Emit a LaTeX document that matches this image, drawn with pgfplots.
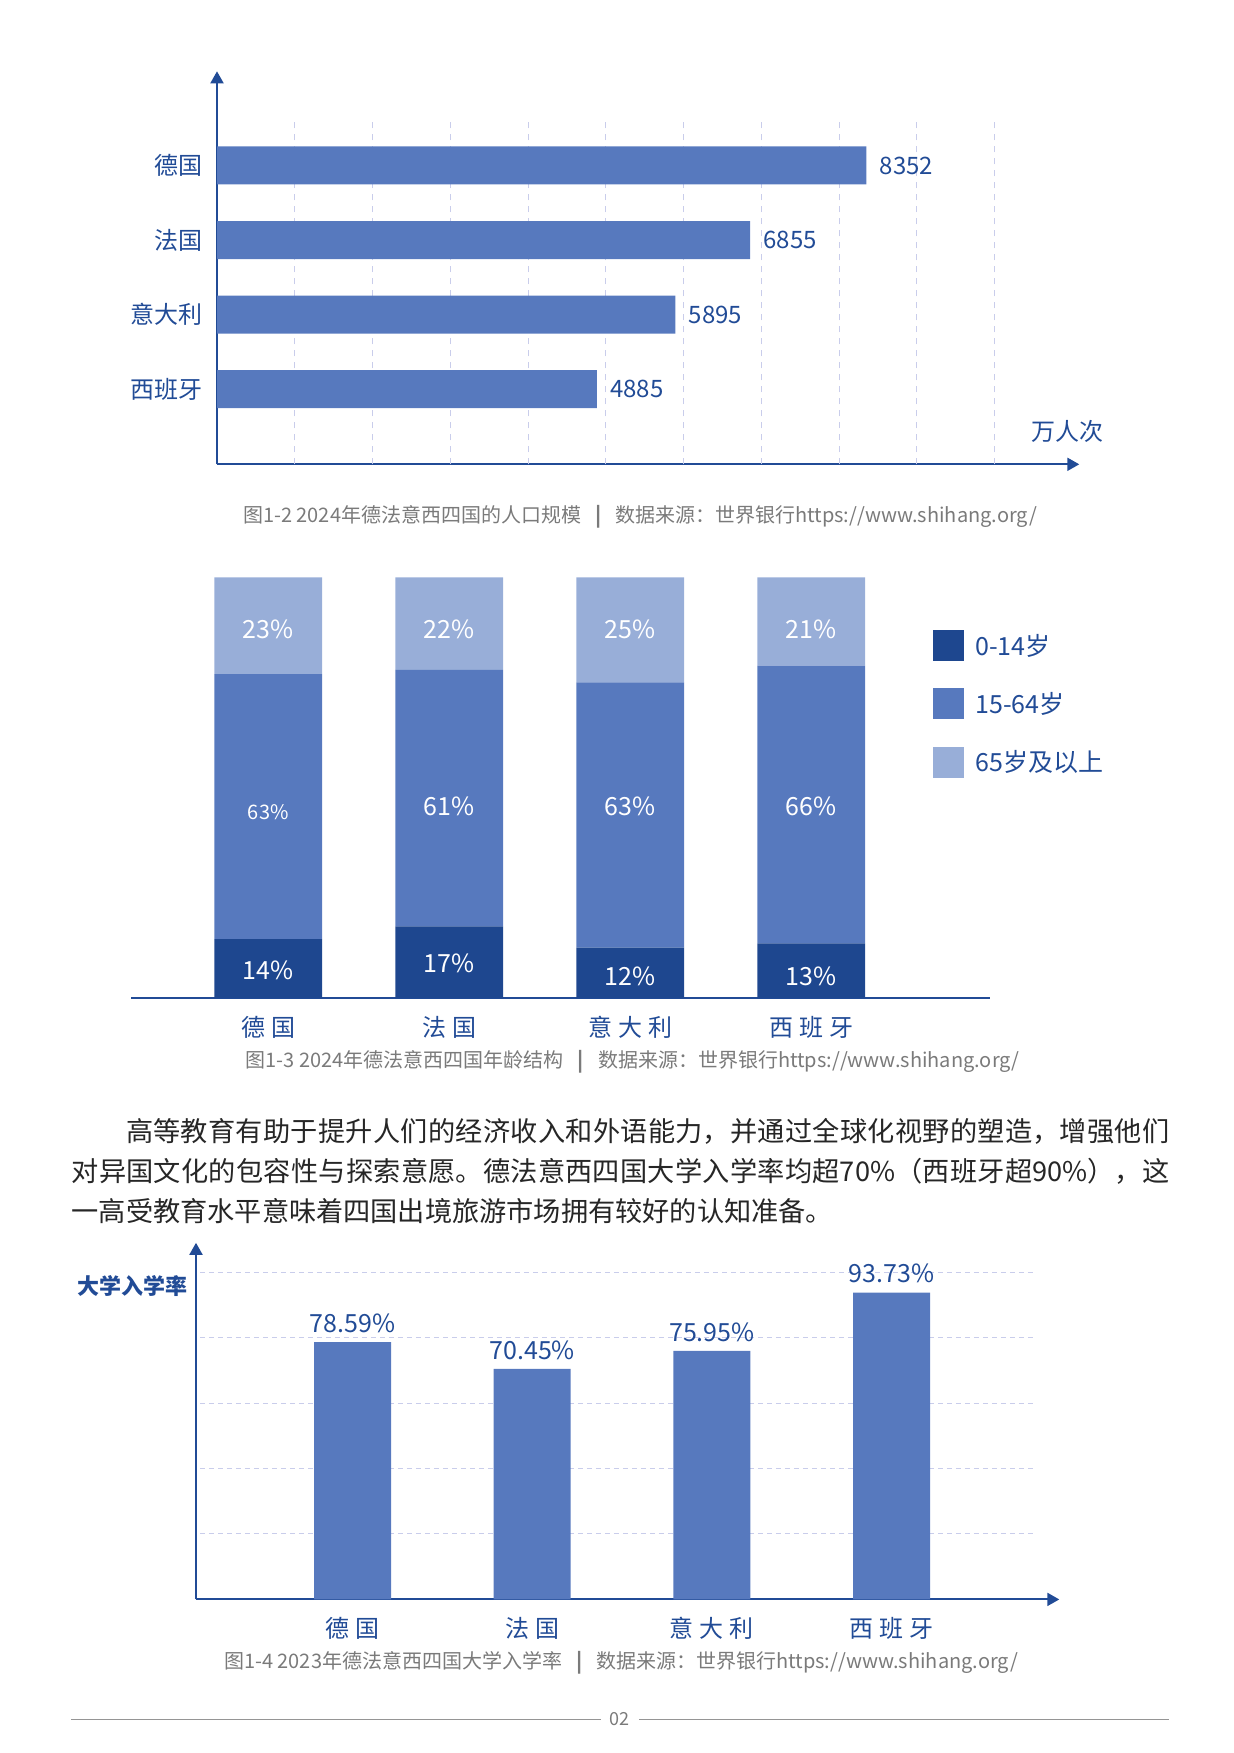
\documentclass[border=0pt]{standalone}
\usepackage{fontspec}
\setmainfont{Noto Sans CJK SC}
\usepackage{pgfplots}
\pgfplotsset{compat=1.18}
\usetikzlibrary{arrows.meta}
\definecolor{barblue}{HTML}{5779BE}
\definecolor{darkblue}{HTML}{1E478F}
\definecolor{lightblue}{HTML}{98AED8}
\definecolor{axisblue}{HTML}{214B96}
\definecolor{gridc}{HTML}{C9CDEB}
\definecolor{capgray}{HTML}{7A7A7A}
\definecolor{bodytext}{HTML}{262626}
\XeTeXlinebreaklocale "zh"
\XeTeXlinebreakskip=0pt plus 2pt minus 0.3pt
\newcommand{\capsep}{\hspace{0.7em}\textbf{|}\hspace{0.7em}}
\tikzset{seglbl/.style={text=white, font=\fontsize{12.5}{14}\selectfont}}
\begin{document}
\begin{tikzpicture}
\path[use as bounding box] (0pt,0pt) rectangle (617pt,-876.5pt);

% ---------------- Chart 1: population ----------------
\begin{axis}[
  at={(108.5pt,-232.15pt)}, anchor=south west,
  width=431.15pt, height=196.5pt, scale only axis,
  xbar, bar width=19pt,
  xmin=0, xmax=11090, ymin=-1.007, ymax=4.263,
  axis x line=bottom, axis y line=left,
  axis line style={axisblue, line width=1pt},
  x axis line style={-{Triangle[length=6pt,width=6.5pt]}},
  y axis line style={-{Triangle[length=6pt,width=6.5pt]}},
  ytick={0,1,2,3}, yticklabels={西班牙,意大利,法国,德国},
  xtick=\empty, major tick length=0pt,
  yticklabel style={font=\fontsize{12}{14}\selectfont, text=axisblue, inner sep=0pt, xshift=-7pt},
  nodes near coords, point meta=explicit symbolic,
  nodes near coords style={font=\fontsize{12}{14}\selectfont, text=axisblue, anchor=west, inner sep=0pt, xshift=6.5pt},
  clip=false,
]
\pgfplotsinvokeforeach{1,...,10}{
  \draw[gridc, line width=0.5pt, dash pattern=on 3pt off 3pt] (axis cs:#1000,-1.007) -- (axis cs:#1000,3.59);
}
\addplot[fill=barblue, draw=none] coordinates {(4885,0)[4885] (5895,1)[5895] (6855,2)[6855] (8352,3)[8352]};
\end{axis}
\node[font=\fontsize{12}{14}\selectfont, text=axisblue] at (533.5pt,-215.85pt) {万人次};
\node[font=\fontsize{10}{12}\selectfont, text=capgray] at (320pt,-258.5pt) {图1-2 2024年德法意西四国的人口规模\capsep 数据来源：世界银行https://www.shihang.org/};

% ---------------- Chart 2: age structure ----------------
\begin{axis}[
  at={(65.6pt,-499pt)}, anchor=south west,
  width=429.25pt, height=210.35pt, scale only axis,
  ybar stacked, bar width=53.8pt,
  xmin=-0.757, xmax=3.986, ymin=0, ymax=100,
  axis x line=bottom, axis y line=none,
  x axis line style={-, axisblue, line width=1pt},
  xtick={0,1,2,3}, xticklabels={德\hspace{3pt}国,法\hspace{3pt}国,意\hspace{3pt}大\hspace{3pt}利,西\hspace{3pt}班\hspace{3pt}牙},
  ytick=\empty, major tick length=0pt,
  xticklabel style={font=\fontsize{12}{14}\selectfont, text=axisblue, anchor=center, inner sep=0pt, yshift=-14.5pt},
  clip=false,
]
\addplot[fill=darkblue, draw=none] coordinates {(0,14) (1,17) (2,12) (3,13)};
\addplot[fill=barblue, draw=none] coordinates {(0,63) (1,61) (2,63) (3,66)};
\addplot[fill=lightblue, draw=none] coordinates {(0,23) (1,22) (2,25) (3,21)};
\coordinate (t0) at (axis cs:0,87.7);
\coordinate (t1) at (axis cs:1,87.7);
\coordinate (t2) at (axis cs:2,87.7);
\coordinate (t3) at (axis cs:3,87.7);
\coordinate (m0) at (axis cs:0,44.2);
\coordinate (m1) at (axis cs:1,45.5);
\coordinate (m2) at (axis cs:2,45.5);
\coordinate (m3) at (axis cs:3,45.5);
\coordinate (b0) at (axis cs:0,6.65);
\coordinate (b1) at (axis cs:1,8.3);
\coordinate (b2) at (axis cs:2,5.1);
\coordinate (b3) at (axis cs:3,5.1);
\end{axis}
\node[seglbl] at (t0) {23\%};
\node[seglbl] at (t1) {22\%};
\node[seglbl] at (t2) {25\%};
\node[seglbl] at (t3) {21\%};
\node[seglbl, font=\fontsize{10}{12}\selectfont] at (m0) {63\%};
\node[seglbl] at (m1) {61\%};
\node[seglbl] at (m2) {63\%};
\node[seglbl] at (m3) {66\%};
\node[seglbl] at (b0) {14\%};
\node[seglbl] at (b1) {17\%};
\node[seglbl] at (b2) {12\%};
\node[seglbl] at (b3) {13\%};
% legend
\fill[darkblue] (466.5pt,-315pt) rectangle (481.85pt,-330.5pt);
\fill[barblue] (466.5pt,-344pt) rectangle (481.85pt,-359.35pt);
\fill[lightblue] (466.5pt,-373.5pt) rectangle (481.85pt,-388.85pt);
\node[anchor=west, inner sep=0pt, text=axisblue, font=\fontsize{12.5}{14}\selectfont] at (487.5pt,-322.75pt) {0-14岁};
\node[anchor=west, inner sep=0pt, text=axisblue, font=\fontsize{12.5}{14}\selectfont] at (487.5pt,-351.75pt) {15-64岁};
\node[anchor=west, inner sep=0pt, text=axisblue, font=\fontsize{12.5}{14}\selectfont] at (487.5pt,-381.15pt) {65岁及以上};
\node[font=\fontsize{10}{12}\selectfont, text=capgray] at (316.4pt,-531pt) {图1-3 2024年德法意西四国年龄结构\capsep 数据来源：世界银行https://www.shihang.org/};

% ---------------- Paragraph ----------------
\node[anchor=base west, inner sep=0pt, text=bodytext] at (35.6pt,-570.9pt) {\parbox[t]{549pt}{\fontsize{13.6pt}{20pt}\selectfont\hspace*{2em}高等教育有助于提升人们的经济收入和外语能力，并通过全球化视野的塑造，增强他们\linebreak 对异国文化的包容性与探索意愿。德法意西四国大学入学率均超70\%（西班牙超90\%），这\linebreak 一高受教育水平意味着四国出境旅游市场拥有较好的认知准备。}};

% ---------------- Chart 3: enrolment ----------------
\begin{axis}[
  at={(98pt,-799.7pt)}, anchor=south west,
  width=431.65pt, height=178.3pt, scale only axis,
  ybar, bar width=38.5pt,
  xmin=-0.871, xmax=3.933, ymin=0, ymax=108.95,
  axis x line=bottom, axis y line=left,
  axis line style={axisblue, line width=1pt},
  x axis line style={-{Triangle[length=6pt,width=6.5pt]}},
  y axis line style={-{Triangle[length=6pt,width=6.5pt]}},
  xtick={0,1,2,3}, xticklabels={德\hspace{3pt}国,法\hspace{3pt}国,意\hspace{3pt}大\hspace{3pt}利,西\hspace{3pt}班\hspace{3pt}牙},
  ytick=\empty, major tick length=0pt,
  xticklabel style={font=\fontsize{12}{14}\selectfont, text=axisblue, anchor=center, inner sep=0pt, yshift=-14.25pt},
  nodes near coords, point meta=explicit symbolic,
  nodes near coords style={font=\fontsize{12.5}{14}\selectfont, text=axisblue, anchor=south, inner sep=0pt, yshift=4.5pt},
  clip=false,
]
\pgfplotsinvokeforeach{20,40,60,80,100}{
  \draw[gridc, line width=0.5pt, dash pattern=on 2.5pt off 2pt] (axis cs:-0.85,#1) -- (axis cs:3.8,#1);
}
\addplot[fill=barblue, draw=none] coordinates {(0,78.59)[78.59\%] (1,70.45)[70.45\%] (2,75.95)[75.95\%] (3,93.73)[93.73\%]};
\end{axis}
\node[font=\bfseries\fontsize{11}{13}\selectfont, text=axisblue] at (66.25pt,-643pt) {大学入学率};
\node[font=\fontsize{10}{12}\selectfont, text=capgray] at (310.5pt,-831.5pt) {图1-4 2023年德法意西四国大学入学率\capsep 数据来源：世界银行https://www.shihang.org/};

% ---------------- Footer ----------------
\draw[capgray!80, line width=0.75pt] (35.6pt,-859.75pt) -- (300.5pt,-859.75pt);
\draw[capgray!80, line width=0.75pt] (319.5pt,-859.75pt) -- (584.5pt,-859.75pt);
\node[font=\fontsize{9}{11}\selectfont, text=capgray] at (309.75pt,-859.75pt) {02};
\end{tikzpicture}
\end{document}
